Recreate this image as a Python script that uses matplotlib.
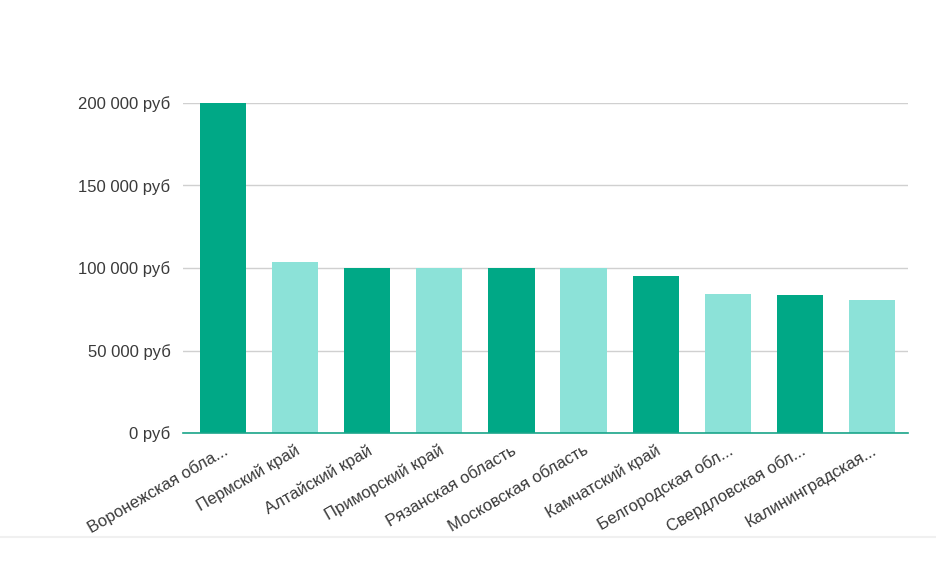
import matplotlib
matplotlib.use('Agg')
import matplotlib.pyplot as plt
from matplotlib.lines import Line2D

plt.rcParams['font.family'] = ['Liberation Sans', 'DejaVu Sans']

regions = ['Воронежская обла...', 'Пермский край', 'Алтайский край', 'Приморский край',
           'Рязанская область', 'Московская область', 'Камчатский край',
           'Белгородская обл...', 'Свердловская обл...', 'Калининградская...']
salary = [200000, 103500, 100000, 100000, 100000, 100000, 94900, 84400, 83800, 80800]
yticks = [0, 50000, 100000, 150000, 200000]
ytick_labels = ['0 руб', '50 000 руб', '100 000 руб', '150 000 руб', '200 000 руб']

dark = '#00a886'
light = '#8ce2d8'
colors = [dark if i % 2 == 0 else light for i in range(len(regions))]

fig = plt.figure(figsize=(9.36, 5.71), dpi=100)
ax = fig.add_axes([183/936, 1-433/571, (908-183)/936, (433-103)/571])

x = list(range(len(regions)))
ax.bar(x, salary, width=0.64, color=colors, zorder=3)
ax.set_xlim(-0.555, 9.5)
ax.set_ylim(0, 200000)
ax.set_yticks(yticks)
ax.set_yticklabels(ytick_labels)
ax.set_xticks(x)
ax.set_xticklabels(regions, rotation=30, ha='right', rotation_mode='anchor')

ax.grid(axis='y', color='#d0d0d0', linewidth=1, zorder=0)
for s in ['top', 'right', 'left']:
    ax.spines[s].set_visible(False)
ax.spines['bottom'].set_color('#1aa58a')
ax.spines['bottom'].set_linewidth(1.2)
ax.spines['bottom'].set_zorder(4)
ax.tick_params(axis='both', length=0, labelsize=12, colors='#3a3a3a')
ax.tick_params(axis='y', pad=9)
ax.tick_params(axis='x', pad=7)

# faint frame line below the chart
fig.add_artist(Line2D([0, 1], [1-537/571, 1-537/571], color='#f0f0f0', linewidth=1.5))

fig.savefig('out.png', dpi=100)
